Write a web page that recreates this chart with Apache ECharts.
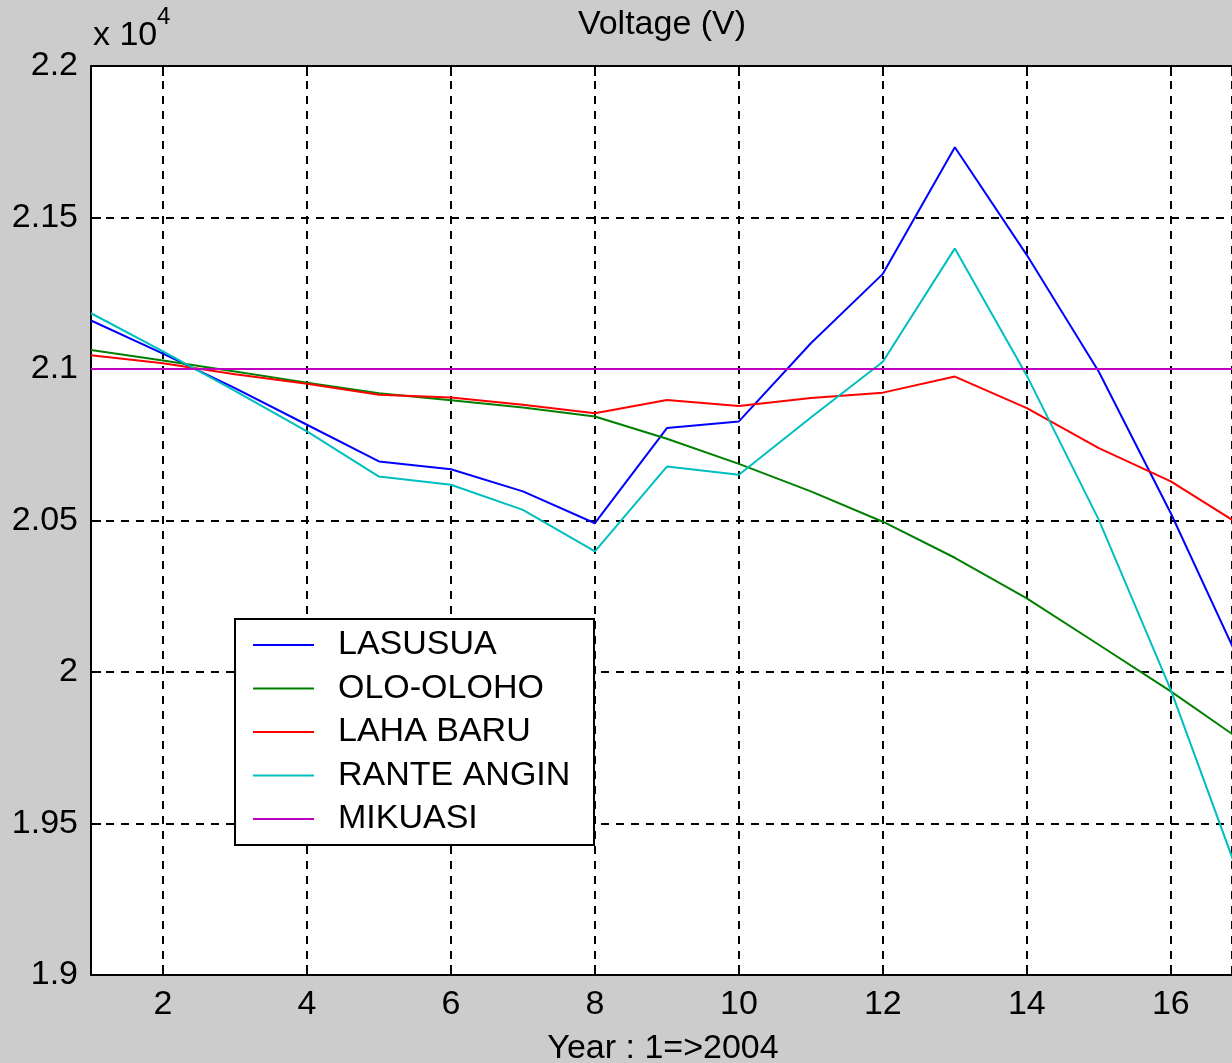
<!DOCTYPE html>
<html>
<head>
<meta charset="utf-8">
<script src="https://cdn.jsdelivr.net/npm/echarts@6/dist/echarts.min.js"></script>
<style>
html,body{margin:0;padding:0;background:#cccccc;}
#chart{width:1232px;height:1063px;}
</style>
</head>
<body>
<div id="chart"></div>
<script>
// ---- data (volts) ----
const years = [1, 2, 3, 4, 5, 6, 7, 8, 9, 10, 11, 12, 13, 14, 15, 16, 17];
const seriesNames = ['LASUSUA', 'OLO-OLOHO', 'LAHA BARU', 'RANTE ANGIN', 'MIKUASI'];
const lasusua    = [21160, 21051, 20937, 20816, 20695, 20669, 20596, 20491, 20805, 20827, 21085, 21314, 21732, 21376, 20991, 20524, 20011];
const oloOloho   = [21063, 21028, 20992, 20955, 20920, 20897, 20873, 20843, 20770, 20687, 20596, 20496, 20377, 20243, 20090, 19936, 19771];
const lahaBaru   = [21045, 21019, 20983, 20951, 20915, 20906, 20882, 20854, 20898, 20878, 20904, 20922, 20975, 20871, 20739, 20629, 20480];
const ranteAngin = [21184, 21058, 20928, 20794, 20645, 20618, 20535, 20398, 20678, 20651, 20840, 21024, 21398, 20978, 20502, 19941, 19292];
const mikuasi    = [21000, 21000, 21000, 21000, 21000, 21000, 21000, 21000, 21000, 21000, 21000, 21000, 21000, 21000, 21000, 21000, 21000];
const yTicks = [19000, 19500, 20000, 20500, 21000, 21500, 22000];
const xVisibleMax = 16.85; // the figure is cropped at the right, just before year 17

const colors = ['#0000ff', '#008000', '#ff0000', '#00bfbf', '#bf00bf'];
const values = [lasusua, oloOloho, lahaBaru, ranteAngin, mikuasi];

const FONT = "'Liberation Sans', Arial, sans-serif";
const chart = echarts.init(document.getElementById('chart'), null, {renderer: 'canvas'});

const series = seriesNames.map((name, i) => ({
  name: name,
  type: 'line',
  symbol: 'none',
  xAxisIndex: 0,
  yAxisIndex: 0,
  data: years.map((x, k) => [x, values[i][k]]),
  lineStyle: {color: colors[i], width: 2},
  itemStyle: {color: colors[i]},
  z: 2
}));

const xAxisBase = {type: 'value', min: 1, max: xVisibleMax, splitNumber: 8};

const option = {
  animation: false,
  backgroundColor: '#cccccc',
  textStyle: {fontFamily: FONT},
  grid: {
    left: 91, top: 66, right: 0, height: 909,
    show: true, backgroundColor: '#ffffff', borderWidth: 0
  },
  xAxis: [Object.assign({}, xAxisBase, {
    position: 'bottom',
    axisLine: {show: true, onZero: false, lineStyle: {color: '#000', width: 2}},
    axisTick: {show: true, inside: true, length: 10, lineStyle: {color: '#000', width: 2}},
    axisLabel: {show: true, showMinLabel: false, showMaxLabel: false, margin: 13,
      color: '#000', fontSize: 34, fontFamily: FONT},
    splitLine: {show: true, lineStyle: {color: '#000', width: 2, type: [8, 7]}}
  }), Object.assign({}, xAxisBase, {
    position: 'top',
    axisLine: {show: true, onZero: false, lineStyle: {color: '#000', width: 2}},
    axisTick: {show: true, inside: true, length: 10, lineStyle: {color: '#000', width: 2}},
    axisLabel: {show: false},
    splitLine: {show: false}
  })],
  yAxis: [{
    type: 'value', min: yTicks[0], max: yTicks[yTicks.length - 1], interval: 500,
    axisLine: {show: true, onZero: false, lineStyle: {color: '#000', width: 2}},
    axisTick: {show: true, inside: true, length: 10, lineStyle: {color: '#000', width: 2}},
    axisLabel: {show: true, margin: 13, color: '#000', fontSize: 34, fontFamily: FONT,
      formatter: v => String(parseFloat((v / 10000).toFixed(2)))},
    splitLine: {show: true, lineStyle: {color: '#000', width: 2, type: [8, 7]}}
  }],
  legend: {
    show: true,
    orient: 'vertical',
    left: 235, top: 619,
    padding: [9, 0, 9, 17],
    itemWidth: 61, itemHeight: 34, itemGap: 9.5,
    data: seriesNames,
    itemStyle: {opacity: 0, borderWidth: 0},
    lineStyle: {width: 2},
    textStyle: {fontSize: 34, lineHeight: 34, color: '#000', fontFamily: FONT, padding: [0, 0, 0, 19]},
    backgroundColor: 'transparent',
    borderWidth: 0,
    z: 5
  },
  graphic: [
    {type: 'rect', z: 3, shape: {x: 235, y: 619, width: 359, height: 226},
      style: {fill: '#ffffff', stroke: '#000000', lineWidth: 2}},
    {type: 'text', z: 10, x: 662, y: 25,
      style: {text: 'Voltage (V)', font: "34px " + FONT, fill: '#000', textAlign: 'center', textVerticalAlign: 'middle'}},
    {type: 'text', z: 10, x: 663, y: 1049,
      style: {text: 'Year : 1=>2004', font: "34px " + FONT, fill: '#000', textAlign: 'center', textVerticalAlign: 'middle'}},
    {type: 'text', z: 10, x: 93, y: 36,
      style: {text: 'x 10', font: "34px " + FONT, fill: '#000', textAlign: 'left', textVerticalAlign: 'middle'}},
    {type: 'text', z: 10, x: 157, y: 17,
      style: {text: '4', font: "24px " + FONT, fill: '#000', textAlign: 'left', textVerticalAlign: 'middle'}}
  ],
  series: series
};
chart.setOption(option);
</script>
</body>
</html>
